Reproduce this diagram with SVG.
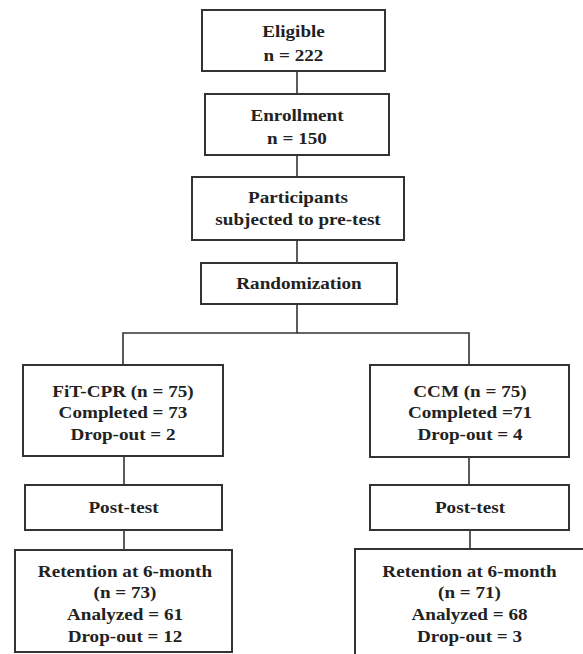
<svg xmlns="http://www.w3.org/2000/svg" width="583" height="654" viewBox="0 0 583 654">
<style>
.box{fill:#fff;stroke:#333;stroke-width:2}
.ln{fill:none;stroke:#333;stroke-width:1.6}
text{font-family:"Liberation Serif","Times New Roman",serif;font-weight:bold;font-size:16.5px;fill:#222;text-anchor:middle}
</style>
<rect width="583" height="654" fill="#fff"/>
<g id="connectors">
<line class="ln" x1="297" y1="71" x2="297" y2="94"/>
<line class="ln" x1="297" y1="155" x2="297" y2="177"/>
<line class="ln" x1="297" y1="240" x2="297" y2="263"/>
<polyline class="ln" points="297,304 297,333 123,333 123,365"/>
<polyline class="ln" points="297,333 469,333 469,365"/>
<line class="ln" x1="124" y1="456" x2="124" y2="485"/>
<line class="ln" x1="124" y1="530" x2="124" y2="550"/>
<line class="ln" x1="469" y1="457" x2="469" y2="485"/>
<line class="ln" x1="470" y1="530" x2="470" y2="549"/>
</g>
<g id="eligible">
<rect class="box" x="202" y="10" width="183" height="61"/>
<g transform="translate(293.5,0) scale(1.16,1)"><text x="0" y="37">Eligible</text><text x="0" y="61">n = 222</text></g>
</g>
<g id="enrollment">
<rect class="box" x="205" y="94" width="184" height="61"/>
<g transform="translate(297,0) scale(1.16,1)"><text x="0" y="121">Enrollment</text><text x="0" y="144">n = 150</text></g>
</g>
<g id="pretest">
<rect class="box" x="192" y="177" width="212" height="63"/>
<g transform="translate(298,0) scale(1.16,1)"><text x="0" y="203">Participants</text><text x="0" y="225">subjected to pre-test</text></g>
</g>
<g id="randomization">
<rect class="box" x="201" y="263" width="196" height="41"/>
<g transform="translate(299,0) scale(1.16,1)"><text x="0" y="289">Randomization</text></g>
</g>
<g id="fitcpr">
<rect class="box" x="23" y="365" width="200" height="91"/>
<g transform="translate(123,0) scale(1.16,1)"><text x="0" y="397">FiT-CPR (n = 75)</text><text x="0" y="418">Completed = 73</text><text x="0" y="440">Drop-out = 2</text></g>
</g>
<g id="ccm">
<rect class="box" x="370" y="365" width="199" height="92"/>
<g transform="translate(470,0) scale(1.16,1)"><text x="0" y="397">CCM (n = 75)</text><text x="0" y="418">Completed =71</text><text x="0" y="440">Drop-out = 4</text></g>
</g>
<g id="posttest-left">
<rect class="box" x="25" y="485" width="197" height="45"/>
<g transform="translate(123.5,0) scale(1.16,1)"><text x="0" y="513">Post-test</text></g>
</g>
<g id="posttest-right">
<rect class="box" x="370" y="485" width="199" height="45"/>
<g transform="translate(470,0) scale(1.16,1)"><text x="0" y="513">Post-test</text></g>
</g>
<g id="retention-left">
<rect class="box" x="15" y="550" width="217" height="102"/>
<g transform="translate(125,0) scale(1.16,1)"><text x="0" y="577">Retention at 6-month</text><text x="0" y="598">(n = 73)</text><text x="0" y="620">Analyzed = 61</text><text x="0" y="642">Drop-out = 12</text></g>
</g>
<g id="retention-right">
<rect class="box" x="355" y="549" width="240" height="115"/>
<g transform="translate(469.5,0) scale(1.16,1)"><text x="0" y="577">Retention at 6-month</text><text x="0" y="598">(n = 71)</text><text x="0" y="620">Analyzed = 68</text><text x="0" y="642">Drop-out = 3</text></g>
</g>
</svg>
